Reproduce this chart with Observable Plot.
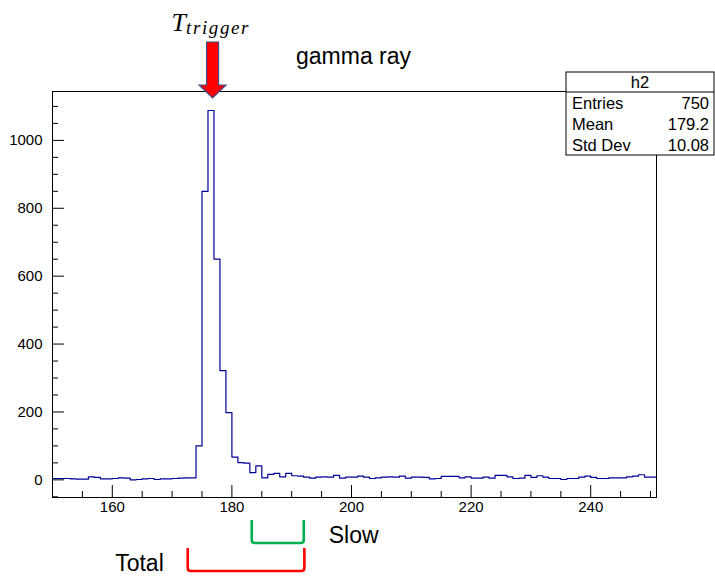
<!DOCTYPE html>
<html>
<head>
<meta charset="utf-8">
<script src="https://cdn.jsdelivr.net/npm/d3@7"></script>
<script src="https://cdn.jsdelivr.net/npm/@observablehq/plot@0.6"></script>
<style>
  html, body { margin: 0; padding: 0; background: #fff; }
  #chart svg { display: block; }
</style>
</head>
<body>
<div id="chart"></div>
<script>
// ---- data ----
const binStart = 150;          // first bin lower edge
const binWidth = 1;
const counts = [
  4,4,4,3,2,2,9,7,3,3,4,6,5,0,1,3,4,1,3,3,4,5,6,6,                // 150-173
  100,850,1088,650,322,198,67,51,49,21,41,6,16,19,9,19,12,11,8,5,   // 174-193
  8,9,8,13,5,8,8,11,8,4,6,8,9,8,11,5,8,8,                          // 194-211
  7,3,4,10,10,10,6,9,5,5,8,5,13,13,9,4,5,13,                       // 212-229
  7,12,8,4,4,1,4,4,8,11,7,4,4,6,6,6,9,11,15,8,8                    // 230-250
];
const xDomain = [150, 251];
const yDomain = [-52, 1144];
const xMajor = [160, 180, 200, 220, 240];
const xMinor = [150,155,165,170,175,185,190,195,205,210,215,225,230,235,245,250];
const yMajor = [0, 200, 400, 600, 800, 1000];
const yMinor = [-50,50,100,150,250,300,350,450,500,550,650,700,750,850,900,950,1050,1100];
const statsTitle = "h2";
const statsRows = [["Entries", "750"], ["Mean", "179.2"], ["Std Dev", "10.08"]];
const triggerX = 176.85;
const slowWindow = [183.4, 192.1];
const totalWindow = [172.7, 192.2];

const hist = counts.map((c, i) => ({x: binStart + i * binWidth, y: c}));
hist.push({x: binStart + counts.length * binWidth, y: counts[counts.length - 1]});

const font = "'Liberation Sans', Arial, Helvetica, sans-serif";

const plot = Plot.plot({
  width: 715,
  height: 576,
  marginLeft: 52,
  marginRight: 59,
  marginTop: 91,
  marginBottom: 79,
  style: {fontFamily: font, fontSize: "15px", background: "#fff", color: "#000", overflow: "visible"},
  x: {domain: xDomain},
  y: {domain: yDomain},
  marks: [
    Plot.line(hist, {x: "x", y: "y", curve: "step-after", stroke: "#000099", strokeWidth: 1.2}),
    Plot.frame({stroke: "#000", strokeWidth: 1}),
    Plot.axisX({ticks: xMajor, tickSize: 12, dy: -12, tickFormat: () => "", label: null, stroke: "#000"}),
    Plot.axisX({ticks: xMinor, tickSize: 6, dy: -6, tickFormat: () => "", label: null, stroke: "#000"}),
    Plot.axisX({ticks: xMajor, tickSize: 0, tickPadding: 4, tickFormat: d3.format("d"), label: null, fontSize: 15, fill: "#000"}),
    Plot.axisY({ticks: yMajor, tickSize: 12, dx: 12, tickFormat: () => "", label: null, stroke: "#000"}),
    Plot.axisY({ticks: yMinor, tickSize: 6, dx: 6, tickFormat: () => "", label: null, stroke: "#000"}),
    Plot.axisY({ticks: yMajor, tickSize: 0, tickPadding: 10, tickFormat: d3.format("d"), label: null, fontSize: 15, fill: "#000"})
  ]
});

document.getElementById("chart").appendChild(plot);

// ---- annotations positioned through the plot's own x scale ----
const xs = plot.scale("x");
const svg = d3.select(plot);
const g = svg.append("g").attr("text-anchor", "start");

// trigger arrow
const ax = xs.apply(triggerX);
const tipY = 98, topY = 42, headH = 13, shaftW = 12, headW = 27;
g.append("path")
  .attr("d", `M${ax - shaftW/2},${topY} L${ax + shaftW/2},${topY} L${ax + shaftW/2},${tipY - headH}
    L${ax + headW/2},${tipY - headH} L${ax},${tipY} L${ax - headW/2},${tipY - headH}
    L${ax - shaftW/2},${tipY - headH} Z`)
  .attr("fill", "#ff0000").attr("stroke", "#3b4f8f").attr("stroke-width", 1.2);

const tt = g.append("text").attr("x", ax - 41).attr("y", 31).attr("text-anchor", "start")
  .attr("font-family", "'Liberation Serif', 'DejaVu Serif', serif").attr("font-style", "italic");
tt.append("tspan").attr("font-size", 26).text("T");
tt.append("tspan").attr("font-size", 19).attr("dy", 3).attr("letter-spacing", 1.6).text("trigger");

g.append("text").attr("x", 296).attr("y", 64).attr("text-anchor", "start")
  .attr("font-family", font).attr("font-size", 23).text("gamma ray");

// brackets
function bracket(win, y0, y1, color) {
  const a = xs.apply(win[0]), b = xs.apply(win[1]), r = 3;
  g.append("path")
    .attr("d", `M${a},${y0} L${a},${y1 - r} Q${a},${y1} ${a + r},${y1} L${b - r},${y1} Q${b},${y1} ${b},${y1 - r} L${b},${y0}`)
    .attr("fill", "none").attr("stroke", color).attr("stroke-width", 2.6);
}
bracket(slowWindow, 520, 543, "#00b050");
bracket(totalWindow, 548, 571, "#ff0000");
g.append("text").attr("x", xs.apply(slowWindow[1]) + 25).attr("y", 543).attr("text-anchor", "start")
  .attr("font-family", font).attr("font-size", 23).text("Slow");
g.append("text").attr("x", xs.apply(totalWindow[0]) - 24).attr("y", 571).attr("text-anchor", "end")
  .attr("font-family", font).attr("font-size", 23).text("Total");

// stats box
const bx = 566, by = 72, bw = 148, rowH = 21, titleH = 20;
const sg = g.append("g").attr("font-family", font).attr("font-size", 16.5);
sg.append("rect").attr("x", bx).attr("y", by).attr("width", bw)
  .attr("height", titleH + rowH * statsRows.length).attr("fill", "#fff").attr("stroke", "#000");
sg.append("line").attr("x1", bx).attr("x2", bx + bw).attr("y1", by + titleH).attr("y2", by + titleH).attr("stroke", "#000");
sg.append("text").attr("x", bx + bw / 2).attr("y", by + 16).attr("text-anchor", "middle").text(statsTitle);
statsRows.forEach(([k, v], i) => {
  const yy = by + titleH + rowH * i + 16.5;
  sg.append("text").attr("x", bx + 6).attr("y", yy).attr("text-anchor", "start").text(k);
  sg.append("text").attr("x", bx + bw - 5).attr("y", yy).attr("text-anchor", "end").text(v);
});
</script>
</body>
</html>
